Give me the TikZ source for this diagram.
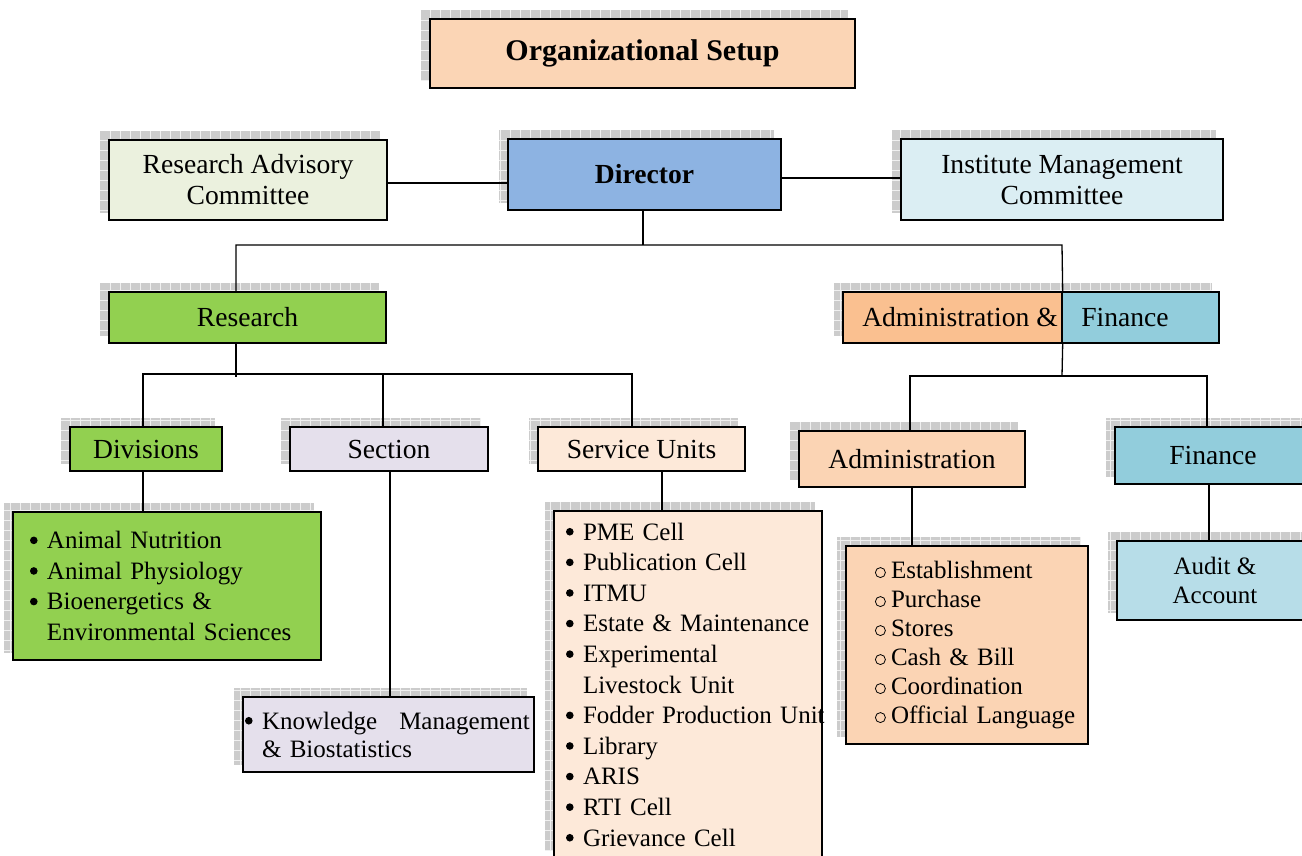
\documentclass[tikz,border=0pt]{standalone}
\usepackage{fontspec}
\setmainfont{Liberation Serif}
\usetikzlibrary{calc,backgrounds}
\definecolor{cTitle}{HTML}{FBD5B5}
\definecolor{cRAC}{HTML}{EBF1DE}
\definecolor{cDir}{HTML}{8DB3E2}
\definecolor{cIMC}{HTML}{DBEEF3}
\definecolor{cGreen}{HTML}{92D050}
\definecolor{cOrange}{HTML}{FAC090}
\definecolor{cTeal}{HTML}{92CDDC}
\definecolor{cLav}{HTML}{E5E0EC}
\definecolor{cPeach}{HTML}{FDE9D9}
\definecolor{cAdm}{HTML}{FBD4B4}
\definecolor{cAud}{HTML}{B7DDE8}
\tikzset{
 box/.style={draw=black, line width=1.4pt, inner sep=0pt, align=center, font=\fontsize{27.6}{31}\selectfont},
 lst/.style={box, align=left, font=\fontsize{25}{30.6}\selectfont},
 conn/.style={draw=black, line width=1.3pt},
 shfill/.style={fill=gray!40},
 shgrid/.style={draw=gray!12, line width=0.6pt, step=10pt},
}
\newcommand\shd[1]{%
 \fill[shfill] ($(#1.north west)+(-8,-8)$) rectangle ($(#1.south east)+(-8,-8)$);
 \draw[shgrid] ($(#1.north west)+(-8,-8)$) grid ($(#1.south east)+(-8,-8)$);}
\newcommand\bul{\makebox[17pt][l]{\raisebox{4.5pt}{\tikz\fill[black] (0,0) circle[radius=3.8pt];}}}
\newcommand\obul{\makebox[16pt][l]{\raisebox{0.5pt}{\tikz\draw[black, line width=0.8pt] (0,0) circle[radius=5pt];}}}
\newcommand\itm[1]{\mbox{\bul#1}}
\newcommand\cnt[1]{\mbox{\hspace*{17pt}#1}}
\newcommand\oitm[1]{\mbox{\obul#1}}
\begin{document}
\begin{tikzpicture}[x=1pt,y=-1pt]
\useasboundingbox (0,0) rectangle (1302,856);
% boxes
\node[box, font=\fontsize{30}{36}\selectfont\bfseries, fill=cTitle, minimum width=425pt, minimum height=69pt] (title) at (642.5,53.5) {\raisebox{3pt}{Organizational Setup}};
\node[box, fill=cRAC, minimum width=278pt, minimum height=80pt] (rac) at (248,180) {Research Advisory\\Committee};
\node[box, font=\fontsize{27.6}{31}\selectfont\bfseries, fill=cDir, minimum width=273pt, minimum height=71pt] (dir) at (644.5,174.5) {\raisebox{-2pt}{Director}};
\node[box, fill=cIMC, minimum width=322pt, minimum height=81pt] (imc) at (1062,179.5) {Institute Management\\Committee};
\node[box, fill=cGreen, minimum width=277pt, minimum height=51pt] (res) at (247.5,317.5) {Research};
\node[box, fill=cOrange, minimum width=219pt, minimum height=51pt] (afL) at (952.5,317.5) {\hspace*{15pt}Administration \&};
\node[box, fill=cTeal, minimum width=157pt, minimum height=51pt] (afR) at (1140.5,317.5) {Finance\hspace*{31pt}};
\node[box, fill=cGreen, minimum width=152pt, minimum height=44pt] (div) at (146,449) {Divisions};
\node[box, fill=cLav, minimum width=198pt, minimum height=44pt] (sec) at (389,449) {Section};
\node[box, fill=cPeach, minimum width=207pt, minimum height=44pt] (svc) at (641.5,449) {Service Units};
\node[box, fill=cAdm, minimum width=226pt, minimum height=56pt] (adm) at (912,459) {Administration};
\node[box, fill=cTeal, minimum width=196pt, minimum height=57pt] (fin) at (1213,455.5) {Finance};
\node[lst, fill=cGreen, minimum height=148pt, text width=274pt, inner xsep=17pt] (divl) at (167,586)
 {\itm{Animal Nutrition}\\ \itm{Animal Physiology}\\ \itm{Bioenergetics \&}\\ \cnt{Environmental Sciences}};
\node[lst, fill=cLav, minimum height=75pt, text width=287pt, inner xsep=2pt, font=\fontsize{25}{28}\selectfont] (km) at (388.5,734.5)
 {\mbox{\bul Knowledge\hspace{22pt}Management}\\ \cnt{\& Biostatistics}};
\node[lst, fill=cPeach, minimum height=347pt, text width=244pt, inner xsep=12pt] (svcl) at (688,684.5)
 {\itm{PME Cell}\\ \itm{Publication Cell}\\ \itm{ITMU}\\ \itm{Estate \& Maintenance}\\ \itm{Experimental}\\ \cnt{Livestock Unit}\\ \itm{Fodder Production Unit}\\ \itm{Library}\\ \itm{ARIS}\\ \itm{RTI Cell}\\ \itm{Grievance Cell}};
\node[lst, fill=cAdm, minimum height=198pt, text width=184pt, inner xsep=29pt, font=\fontsize{25}{29}\selectfont] (adml) at (967,645)
 {\oitm{Establishment}\\ \oitm{Purchase}\\ \oitm{Stores}\\ \oitm{Cash \& Bill}\\ \oitm{Coordination}\\ \oitm{Official Language}\\[6pt]};
\node[box, fill=cAud, minimum width=196pt, minimum height=79pt, font=\fontsize{25}{29}\selectfont] (aud) at (1215,580.5) {Audit \&\\Account};
% shadows
\begin{scope}[on background layer]
\fill[white] (0,0) rectangle (1302,856);
\shd{title}\shd{rac}\shd{dir}\shd{imc}\shd{res}\shd{afL}\shd{afR}
\shd{div}\shd{sec}\shd{svc}\shd{adm}\shd{fin}
\shd{divl}\shd{km}\shd{svcl}\shd{adml}\shd{aud}
\end{scope}
% connectors
\coordinate (h1) at (0,183);
\coordinate (h2) at (0,178);
\draw[conn] (rac.east |- h1) -- (dir.west |- h1);
\draw[conn] (dir.east |- h2) -- (imc.west |- h2);
\coordinate (j1) at (643,245);
\coordinate (jl) at (236,245);
\coordinate (jr) at (1062,245);
\draw[conn] (dir.south -| j1) -- (j1);
\draw[conn] (res.north -| jl) -- (jl) -- (jr) -- (afL.north east);
\coordinate (r1) at (236,377);
\coordinate (rl) at (143,374);
\coordinate (rm) at (383,374);
\coordinate (rr) at (632,374);
\draw[conn] (res.south -| r1) -- (r1);
\draw[conn] (div.north -| rl) -- (rl) -- (rr) -- (svc.north -| rr);
\draw[conn] (rm) -- (sec.north -| rm);
\coordinate (a1) at (1062,376);
\coordinate (al) at (910,376);
\coordinate (ar) at (1207,376);
\draw[conn] (afL.south east) -- (a1);
\draw[conn] (adm.north -| al) -- (al) -- (ar) -- (fin.north -| ar);
\coordinate (d1) at (143,490);
\coordinate (s1) at (390,490);
\coordinate (v1) at (662,490);
\coordinate (m1) at (912,490);
\coordinate (f1) at (1209,490);
\draw[conn] (div.south -| d1) -- (divl.north -| d1);
\draw[conn] (sec.south -| s1) -- (km.north -| s1);
\draw[conn] (svc.south -| v1) -- (svcl.north -| v1);
\draw[conn] (adm.south -| m1) -- (adml.north -| m1);
\draw[conn] (fin.south -| f1) -- (aud.north -| f1);
\end{tikzpicture}
\end{document}
